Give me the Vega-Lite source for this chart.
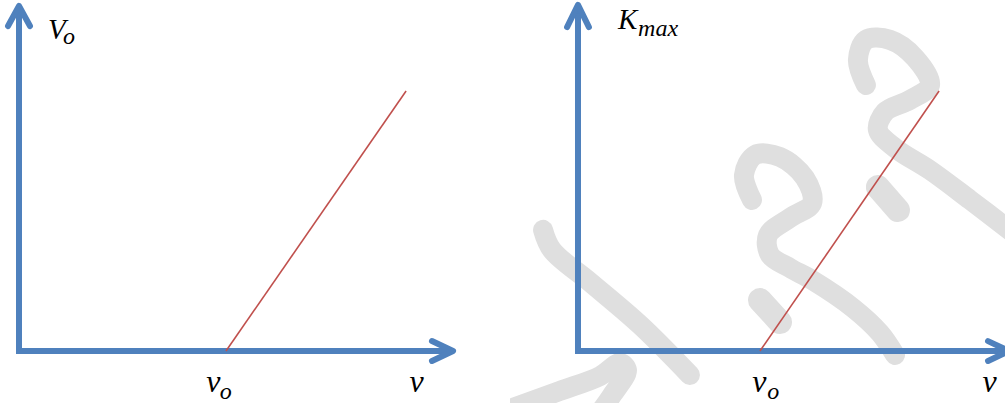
{
  "$schema": "https://vega.github.io/schema/vega-lite/v6.json",
  "padding": 0,
  "spacing": 0,
  "background": "white",
  "config": {"view": {"stroke": null}},
  "datasets": {
    "axes": [
      {"panel": "V", "part": "frame", "i": 0, "x": 0, "y": 1.322},
      {"panel": "V", "part": "frame", "i": 1, "x": 0, "y": 0},
      {"panel": "V", "part": "frame", "i": 2, "x": 2.097, "y": 0},
      {"panel": "V", "part": "yhead", "i": 0, "x": -0.053, "y": 1.245},
      {"panel": "V", "part": "yhead", "i": 1, "x": 0, "y": 1.322},
      {"panel": "V", "part": "yhead", "i": 2, "x": 0.053, "y": 1.245},
      {"panel": "V", "part": "xhead", "i": 0, "x": 1.995, "y": 0.038},
      {"panel": "V", "part": "xhead", "i": 1, "x": 2.097, "y": 0},
      {"panel": "V", "part": "xhead", "i": 2, "x": 1.995, "y": -0.038},
      {"panel": "K", "part": "frame", "i": 0, "x": 0, "y": 1.326},
      {"panel": "K", "part": "frame", "i": 1, "x": 0, "y": 0},
      {"panel": "K", "part": "frame", "i": 2, "x": 2.368, "y": 0},
      {"panel": "K", "part": "yhead", "i": 0, "x": -0.06, "y": 1.241},
      {"panel": "K", "part": "yhead", "i": 1, "x": 0, "y": 1.326},
      {"panel": "K", "part": "yhead", "i": 2, "x": 0.06, "y": 1.241},
      {"panel": "K", "part": "xhead", "i": 0, "x": 2.253, "y": 0.038},
      {"panel": "K", "part": "xhead", "i": 1, "x": 2.368, "y": 0},
      {"panel": "K", "part": "xhead", "i": 2, "x": 2.253, "y": -0.038}
    ],
    "curve": [
      {"panel": "V", "i": 0, "x": 1, "y": 0},
      {"panel": "V", "i": 1, "x": 1.87, "y": 0.996},
      {"panel": "K", "i": 0, "x": 1, "y": 0},
      {"panel": "K", "i": 1, "x": 1.984, "y": 0.996}
    ],
    "labels": [
      {"panel": "V", "kind": "main", "text": "V", "x": 0.14, "y": 1.195},
      {"panel": "V", "kind": "sub", "text": "o", "x": 0.213, "y": 1.176},
      {"panel": "V", "kind": "nu", "text": "ν", "x": 0.905, "y": -0.157},
      {"panel": "V", "kind": "sub", "text": "o", "x": 0.97, "y": -0.184},
      {"panel": "V", "kind": "nu", "text": "ν", "x": 1.886, "y": -0.157},
      {"panel": "K", "kind": "main", "text": "K", "x": 0.22, "y": 1.234},
      {"panel": "K", "kind": "sub", "text": "max", "x": 0.33, "y": 1.207},
      {"panel": "K", "kind": "nu", "text": "ν", "x": 0.958, "y": -0.157},
      {"panel": "K", "kind": "sub", "text": "o", "x": 1.04, "y": -0.184},
      {"panel": "K", "kind": "nu", "text": "ν", "x": 2.222, "y": -0.157}
    ],
    "brush": [
      {"stroke": "a", "i": 0, "x": -0.192, "y": 0.464},
      {"stroke": "a", "i": 1, "x": -0.143, "y": 0.387},
      {"stroke": "a", "i": 2, "x": 0.066, "y": 0.264},
      {"stroke": "a", "i": 3, "x": 0.341, "y": 0.1},
      {"stroke": "a", "i": 4, "x": 0.615, "y": -0.092},
      {"stroke": "b", "i": 0, "x": -0.346, "y": -0.215},
      {"stroke": "b", "i": 1, "x": -0.099, "y": -0.153},
      {"stroke": "b", "i": 2, "x": 0.121, "y": -0.096},
      {"stroke": "b", "i": 3, "x": 0.231, "y": -0.046},
      {"stroke": "b", "i": 4, "x": 0.269, "y": -0.073},
      {"stroke": "b", "i": 5, "x": 0.187, "y": -0.169},
      {"stroke": "b", "i": 6, "x": 0.121, "y": -0.234},
      {"stroke": "c", "i": 0, "x": 0.956, "y": 0.579},
      {"stroke": "c", "i": 1, "x": 0.912, "y": 0.674},
      {"stroke": "c", "i": 2, "x": 0.973, "y": 0.751},
      {"stroke": "c", "i": 3, "x": 1.11, "y": 0.743},
      {"stroke": "c", "i": 4, "x": 1.247, "y": 0.663},
      {"stroke": "c", "i": 5, "x": 1.286, "y": 0.567},
      {"stroke": "c", "i": 6, "x": 1.165, "y": 0.51},
      {"stroke": "c", "i": 7, "x": 1.044, "y": 0.444},
      {"stroke": "c", "i": 8, "x": 1.055, "y": 0.368},
      {"stroke": "c", "i": 9, "x": 1.165, "y": 0.318},
      {"stroke": "c", "i": 10, "x": 1.286, "y": 0.272},
      {"stroke": "c", "i": 11, "x": 1.511, "y": 0.165},
      {"stroke": "c", "i": 12, "x": 1.659, "y": 0.069},
      {"stroke": "c", "i": 13, "x": 1.742, "y": -0.015},
      {"stroke": "e", "i": 0, "x": 1.582, "y": 1.019},
      {"stroke": "e", "i": 1, "x": 1.538, "y": 1.115},
      {"stroke": "e", "i": 2, "x": 1.582, "y": 1.192},
      {"stroke": "e", "i": 3, "x": 1.714, "y": 1.192},
      {"stroke": "e", "i": 4, "x": 1.852, "y": 1.123},
      {"stroke": "e", "i": 5, "x": 1.934, "y": 1.019},
      {"stroke": "e", "i": 6, "x": 1.824, "y": 0.962},
      {"stroke": "e", "i": 7, "x": 1.687, "y": 0.916},
      {"stroke": "e", "i": 8, "x": 1.648, "y": 0.847},
      {"stroke": "e", "i": 9, "x": 1.742, "y": 0.778},
      {"stroke": "e", "i": 10, "x": 1.934, "y": 0.693},
      {"stroke": "e", "i": 11, "x": 2.154, "y": 0.579},
      {"stroke": "e", "i": 12, "x": 2.385, "y": 0.456}
    ],
    "dots": [
      {"dot": "d1", "i": 0, "x": 1.0, "y": 0.195},
      {"dot": "d1", "i": 1, "x": 1.11, "y": 0.111},
      {"dot": "d2", "i": 0, "x": 1.648, "y": 0.628},
      {"dot": "d2", "i": 1, "x": 1.758, "y": 0.54}
    ]
  },
  "hconcat": [
    {
      "width": 510,
      "height": 403,
      "layer": [
        {
          "data": {"name": "axes"},
          "transform": [{"filter": "datum.panel === 'V' && datum.part === 'frame'"}],
          "mark": {"type": "line", "color": "#4f81bd", "strokeWidth": 6, "strokeJoin": "miter", "strokeCap": "butt", "clip": true},
          "encoding": {
            "x": {"field": "x", "type": "quantitative", "scale": {"domain": [-0.0918, 2.372], "nice": false, "zero": false}, "axis": null},
            "y": {"field": "y", "type": "quantitative", "scale": {"domain": [-0.1992, 1.3448], "nice": false, "zero": false}, "axis": null},
            "order": {"field": "i"}
          }
        },
        {
          "data": {"name": "axes"},
          "transform": [{"filter": "datum.panel === 'V' && datum.part !== 'frame'"}],
          "mark": {"type": "line", "color": "#4f81bd", "strokeWidth": 6, "strokeJoin": "round", "strokeCap": "round", "clip": true},
          "encoding": {
            "x": {"field": "x", "type": "quantitative"},
            "y": {"field": "y", "type": "quantitative"},
            "detail": {"field": "part"},
            "order": {"field": "i"}
          }
        },
        {
          "data": {"name": "curve"},
          "transform": [{"filter": "datum.panel === 'V'"}],
          "mark": {"type": "line", "color": "#c0504d", "strokeWidth": 1.6, "clip": true},
          "encoding": {
            "x": {"field": "x", "type": "quantitative"},
            "y": {"field": "y", "type": "quantitative"},
            "order": {"field": "i"}
          }
        },
        {
          "data": {"name": "labels"},
          "transform": [{"filter": "datum.panel === 'V' && datum.kind === 'main'"}],
          "mark": {"type": "text", "font": "Liberation Serif", "fontStyle": "italic", "fontSize": 29, "align": "left", "baseline": "alphabetic", "color": "black"},
          "encoding": {
            "x": {"field": "x", "type": "quantitative"},
            "y": {"field": "y", "type": "quantitative"},
            "text": {"field": "text"}
          }
        },
        {
          "data": {"name": "labels"},
          "transform": [{"filter": "datum.panel === 'V' && datum.kind === 'nu'"}],
          "mark": {"type": "text", "font": "Liberation Serif", "fontStyle": "italic", "fontSize": 32, "align": "left", "baseline": "alphabetic", "color": "black"},
          "encoding": {
            "x": {"field": "x", "type": "quantitative"},
            "y": {"field": "y", "type": "quantitative"},
            "text": {"field": "text"}
          }
        },
        {
          "data": {"name": "labels"},
          "transform": [{"filter": "datum.panel === 'V' && datum.kind === 'sub'"}],
          "mark": {"type": "text", "font": "Liberation Serif", "fontStyle": "italic", "fontSize": 24, "align": "left", "baseline": "alphabetic", "color": "black"},
          "encoding": {
            "x": {"field": "x", "type": "quantitative"},
            "y": {"field": "y", "type": "quantitative"},
            "text": {"field": "text"}
          }
        }
      ]
    },
    {
      "width": 495,
      "height": 403,
      "layer": [
        {
          "data": {"name": "brush"},
          "mark": {"type": "line", "color": "#dfdfdf", "strokeWidth": 20, "strokeCap": "round", "strokeJoin": "round", "interpolate": "catmull-rom", "clip": true},
          "encoding": {
            "x": {"field": "x", "type": "quantitative", "scale": {"domain": [-0.3736, 2.3462], "nice": false, "zero": false}, "axis": null},
            "y": {"field": "y", "type": "quantitative", "scale": {"domain": [-0.1992, 1.3448], "nice": false, "zero": false}, "axis": null},
            "detail": {"field": "stroke"},
            "order": {"field": "i"}
          }
        },
        {
          "data": {"name": "dots"},
          "mark": {"type": "line", "color": "#dfdfdf", "strokeWidth": 24, "strokeCap": "round", "clip": true},
          "encoding": {
            "x": {"field": "x", "type": "quantitative"},
            "y": {"field": "y", "type": "quantitative"},
            "detail": {"field": "dot"},
            "order": {"field": "i"}
          }
        },
        {
          "data": {"name": "axes"},
          "transform": [{"filter": "datum.panel === 'K' && datum.part === 'frame'"}],
          "mark": {"type": "line", "color": "#4f81bd", "strokeWidth": 6, "strokeJoin": "miter", "strokeCap": "butt", "clip": true},
          "encoding": {
            "x": {"field": "x", "type": "quantitative"},
            "y": {"field": "y", "type": "quantitative"},
            "order": {"field": "i"}
          }
        },
        {
          "data": {"name": "axes"},
          "transform": [{"filter": "datum.panel === 'K' && datum.part !== 'frame'"}],
          "mark": {"type": "line", "color": "#4f81bd", "strokeWidth": 6, "strokeJoin": "round", "strokeCap": "round", "clip": true},
          "encoding": {
            "x": {"field": "x", "type": "quantitative"},
            "y": {"field": "y", "type": "quantitative"},
            "detail": {"field": "part"},
            "order": {"field": "i"}
          }
        },
        {
          "data": {"name": "curve"},
          "transform": [{"filter": "datum.panel === 'K'"}],
          "mark": {"type": "line", "color": "#c0504d", "strokeWidth": 1.6, "clip": true},
          "encoding": {
            "x": {"field": "x", "type": "quantitative"},
            "y": {"field": "y", "type": "quantitative"},
            "order": {"field": "i"}
          }
        },
        {
          "data": {"name": "labels"},
          "transform": [{"filter": "datum.panel === 'K' && datum.kind === 'main'"}],
          "mark": {"type": "text", "font": "Liberation Serif", "fontStyle": "italic", "fontSize": 29, "align": "left", "baseline": "alphabetic", "color": "black"},
          "encoding": {
            "x": {"field": "x", "type": "quantitative"},
            "y": {"field": "y", "type": "quantitative"},
            "text": {"field": "text"}
          }
        },
        {
          "data": {"name": "labels"},
          "transform": [{"filter": "datum.panel === 'K' && datum.kind === 'nu'"}],
          "mark": {"type": "text", "font": "Liberation Serif", "fontStyle": "italic", "fontSize": 32, "align": "left", "baseline": "alphabetic", "color": "black"},
          "encoding": {
            "x": {"field": "x", "type": "quantitative"},
            "y": {"field": "y", "type": "quantitative"},
            "text": {"field": "text"}
          }
        },
        {
          "data": {"name": "labels"},
          "transform": [{"filter": "datum.panel === 'K' && datum.kind === 'sub'"}],
          "mark": {"type": "text", "font": "Liberation Serif", "fontStyle": "italic", "fontSize": 24, "align": "left", "baseline": "alphabetic", "color": "black"},
          "encoding": {
            "x": {"field": "x", "type": "quantitative"},
            "y": {"field": "y", "type": "quantitative"},
            "text": {"field": "text"}
          }
        }
      ]
    }
  ]
}
